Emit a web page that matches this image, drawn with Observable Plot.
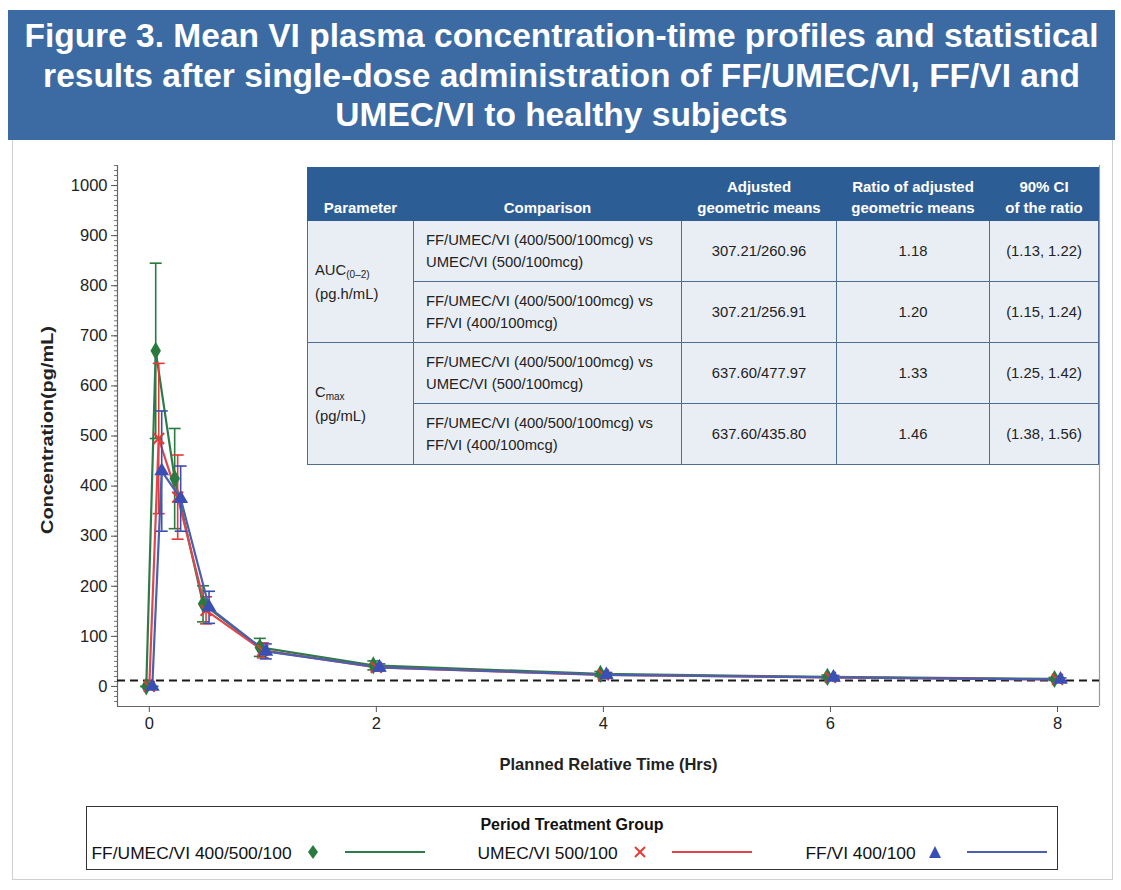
<!DOCTYPE html>
<html><head><meta charset="utf-8">
<script src="https://cdn.jsdelivr.net/npm/d3@7"></script>
<script src="https://cdn.jsdelivr.net/npm/@observablehq/plot@0.6"></script>
<style>
body{margin:0;background:#fff;font-family:"Liberation Sans",Arial,sans-serif;color:#111;}
#wrap{position:relative;width:1121px;height:890px;overflow:hidden;background:#fff;}
#banner{position:absolute;left:8px;top:10px;width:1107px;height:130px;background:#3b6ba2;color:#fff;font-weight:bold;font-size:33.5px;line-height:39.5px;text-align:center;box-sizing:border-box;padding-top:6px;white-space:nowrap;}
#panel{position:absolute;left:12px;top:140px;width:1101px;height:740px;border:1px solid #cfcfcf;border-top:none;box-sizing:border-box;}
#chart{position:absolute;left:0;top:145px;}
#tbl{position:absolute;left:307px;top:167px;width:791px;table-layout:fixed;border-collapse:collapse;font-size:14.8px;color:#222;}
#tbl th{background:#2d5d95;color:#fff;font-weight:bold;font-size:15px;line-height:21px;vertical-align:bottom;padding:0 0 2px 0;height:50px;border:1.5px solid #2d5d95;white-space:nowrap;overflow:visible;}
#tbl td{background:#e9eef5;border:1.5px solid #4d6d95;height:60px;padding:0;vertical-align:middle;line-height:22px;white-space:nowrap;overflow:visible;}
#tbl td.cmp{text-align:left;padding-left:12px;}
#tbl td.par{text-align:left;padding-left:7px;line-height:24px;}
#tbl td.num{text-align:center;}
#tbl sub{font-size:10px;vertical-align:-3px;line-height:0;}
#legend{position:absolute;left:86px;top:806px;width:972px;height:64px;border:1.5px solid #333;box-sizing:border-box;}
#legend .ttl{position:absolute;left:0;right:0;top:9px;text-align:center;font-weight:bold;font-size:16px;}
#legend .txt{position:absolute;top:36px;font-size:17.4px;white-space:nowrap;line-height:20px;}
#legend svg{position:absolute;}
</style></head>
<body><div id="wrap">
<div id="banner">Figure 3. Mean VI plasma concentration-time profiles and statistical<br>results after single-dose administration of FF/UMEC/VI, FF/VI and<br>UMEC/VI to healthy subjects</div>
<div id="panel"></div>
<div id="chart"></div>
<table id="tbl"></table>
<div id="legend"></div>
</div>
<script>
// ---- data ----
const times = [0, 0.083, 0.25, 0.5, 1, 2, 4, 6, 8];
const groups = ["FF/UMEC/VI 400/500/100", "UMEC/VI 500/100", "FF/VI 400/100"];
const meanFFUMECVI = [0, 670, 415, 165, 78, 42, 25, 19, 15];
const sdFFUMECVI   = [0, 175, 100, 36, 18, 9, 5, 4, 3];
const meanUMECVI   = [0, 495, 378, 152, 72, 38, 23, 18, 14];
const sdUMECVI     = [0, 150, 84, 27, 15, 7, 5, 4, 3];
const meanFFVI     = [0, 430, 375, 158, 70, 38, 23, 18, 14];
const sdFFVI       = [0, 120, 65, 32, 15, 7, 5, 4, 3];
const llq = 12;
const xTicks = [0, 2, 4, 6, 8];
const yTicks = [0, 100, 200, 300, 400, 500, 600, 700, 800, 900, 1000];

const tableHeaders = ["Parameter", "Comparison", "Adjusted<br>geometric means", "Ratio of adjusted<br>geometric means", "90% CI<br>of the ratio"];
const parameters = ["AUC<sub>(0\u20132)</sub><br>(pg.h/mL)", "C<sub>max</sub><br>(pg/mL)"];
const comparisons = ["FF/UMEC/VI (400/500/100mcg) vs<br>UMEC/VI (500/100mcg)", "FF/UMEC/VI (400/500/100mcg) vs<br>FF/VI (400/100mcg)", "FF/UMEC/VI (400/500/100mcg) vs<br>UMEC/VI (500/100mcg)", "FF/UMEC/VI (400/500/100mcg) vs<br>FF/VI (400/100mcg)"];
const adjMeans = ["307.21/260.96", "307.21/256.91", "637.60/477.97", "637.60/435.80"];
const ratios = ["1.18", "1.20", "1.33", "1.46"];
const cis = ["(1.13, 1.22)", "(1.15, 1.24)", "(1.25, 1.42)", "(1.38, 1.56)"];

// ---- styles ----
const colors = ["#2a7a40", "#e53935", "#3a4fb3"];
const lineColors = ["#2f7a4a", "#e0454c", "#4a5fae"];
const symbols = ["diamond", "times", "triangle"];
const offsets = [-3, 0, 3];
const means = [meanFFUMECVI, meanUMECVI, meanFFVI];
const sds = [sdFFUMECVI, sdUMECVI, sdFFVI];

const rows = [];
groups.forEach((g, gi) => times.forEach((t, i) => rows.push({group: g, gi, time: t, mean: means[gi][i], lo: means[gi][i] - sds[gi][i], hi: means[gi][i] + sds[gi][i]})));

const cap = {draw(ctx, size) { const r = Math.sqrt(size / Math.PI); ctx.moveTo(-r, 0); ctx.lineTo(r, 0); }};

const xDomain = [-0.28, 8.37];
const yDomain = [-40, 1040];
const marks = [
  Plot.axisY({ticks: d3.range(-30, 1041, 10), tickSize: 3, tickFormat: () => "", stroke: "#777"}),
  Plot.axisY({ticks: yTicks, tickSize: 6, tickPadding: 4, tickFormat: d3.format("d"), fontSize: 16.5, label: null, stroke: "#555", fill: "#222"}),
  Plot.axisX({ticks: xTicks, tickSize: 6, tickPadding: 5, fontSize: 16.5, label: null, stroke: "#555", fill: "#222"}),
  Plot.ruleX([xDomain[0]], {stroke: "#666", strokeWidth: 1.2}),
  Plot.ruleX([xDomain[1]], {stroke: "#999", strokeWidth: 1.2}),
  Plot.ruleY([yDomain[0]], {stroke: "#666", strokeWidth: 1.2}),
  Plot.ruleY([llq], {stroke: "#1a1a1a", strokeWidth: 2, strokeDasharray: "8,5"})
];
groups.forEach((g, gi) => {
  const d = rows.filter(r => r.gi === gi);
  marks.push(
    Plot.ruleX(d, {x: "time", y1: "lo", y2: "hi", stroke: colors[gi], strokeWidth: 1.6, dx: offsets[gi]}),
    Plot.dot(d, {x: "time", y: "lo", symbol: cap, r: 6, stroke: colors[gi], strokeWidth: 1.6, dx: offsets[gi]}),
    Plot.dot(d, {x: "time", y: "hi", symbol: cap, r: 6, stroke: colors[gi], strokeWidth: 1.6, dx: offsets[gi]}),
    Plot.line(d, {x: "time", y: "mean", stroke: lineColors[gi], strokeWidth: 2.2, dx: offsets[gi]})
  );
});
groups.forEach((g, gi) => {
  const d = rows.filter(r => r.gi === gi);
  marks.push(gi === 1
    ? Plot.dot(d, {x: "time", y: "mean", symbol: symbols[gi], r: 5, stroke: colors[gi], strokeWidth: 2, dx: offsets[gi]})
    : Plot.dot(d, {x: "time", y: "mean", symbol: symbols[gi], r: 5.5, fill: colors[gi], dx: offsets[gi]}));
});
marks.push(
  Plot.text(["Planned Relative Time (Hrs)"], {frameAnchor: "bottom", dy: 63, fontSize: 16.5, fontWeight: "bold", fill: "#222"}),
  Plot.text(["Concentration(pg/mL)"], {frameAnchor: "left", textAnchor: "middle", dx: -70, dy: -6, rotate: -90, fontSize: 17, fontWeight: "bold", fill: "#222", className: "ylab"})
);

const plot = Plot.plot({
  width: 1121, height: 650,
  marginLeft: 117, marginRight: 22, marginTop: 20, marginBottom: 89,
  style: {fontFamily: '"Liberation Sans",Arial,sans-serif', background: "transparent", overflow: "visible"},
  x: {domain: xDomain},
  y: {domain: yDomain},
  marks
});
d3.select(plot).selectAll(".ylab text").attr("textLength", 208).attr("lengthAdjust", "spacingAndGlyphs");
document.getElementById("chart").appendChild(plot);

// ---- table ----
const widths = [106, 268, 155, 153, 109];
let html = "<colgroup>" + widths.map(w => `<col style="width:${w}px">`).join("") + "</colgroup>";
html += "<tr>" + tableHeaders.map(h => `<th>${h}</th>`).join("") + "</tr>";
comparisons.forEach((c, i) => {
  html += "<tr>";
  if (i % 2 === 0) html += `<td class="par" rowspan="2">${parameters[i / 2]}</td>`;
  html += `<td class="cmp">${c}</td><td class="num">${adjMeans[i]}</td><td class="num">${ratios[i]}</td><td class="num">${cis[i]}</td></tr>`;
});
document.getElementById("tbl").innerHTML = html;

// ---- legend ----
const L0 = 87.5; // inner left of legend box in page coords
const textX = [92, 478, 806];
const symX = [313, 640, 935];
const lineX = [[345, 425], [672, 752], [967, 1047]];
const symSvg = [
  c => `<path d="M7,1L12,8L7,15L2,8Z" fill="${c}"/>`,
  c => `<path d="M2,3L12,13M12,3L2,13" stroke="${c}" stroke-width="2"/>`,
  c => `<path d="M7,2L13,14L1,14Z" fill="${c}"/>`
];
let lg = `<div class="ttl">Period Treatment Group</div>`;
groups.forEach((g, gi) => {
  lg += `<div class="txt" style="left:${textX[gi] - L0}px">${g}</div>`;
  lg += `<svg width="14" height="16" style="left:${symX[gi] - 7 - L0}px;top:37px">${symSvg[gi](colors[gi])}</svg>`;
  lg += `<svg width="${lineX[gi][1] - lineX[gi][0]}" height="6" style="left:${lineX[gi][0] - L0}px;top:42px"><line x1="0" y1="3" x2="${lineX[gi][1] - lineX[gi][0]}" y2="3" stroke="${lineColors[gi]}" stroke-width="2"/></svg>`;
});
document.getElementById("legend").innerHTML = lg;
</script>
</body></html>
